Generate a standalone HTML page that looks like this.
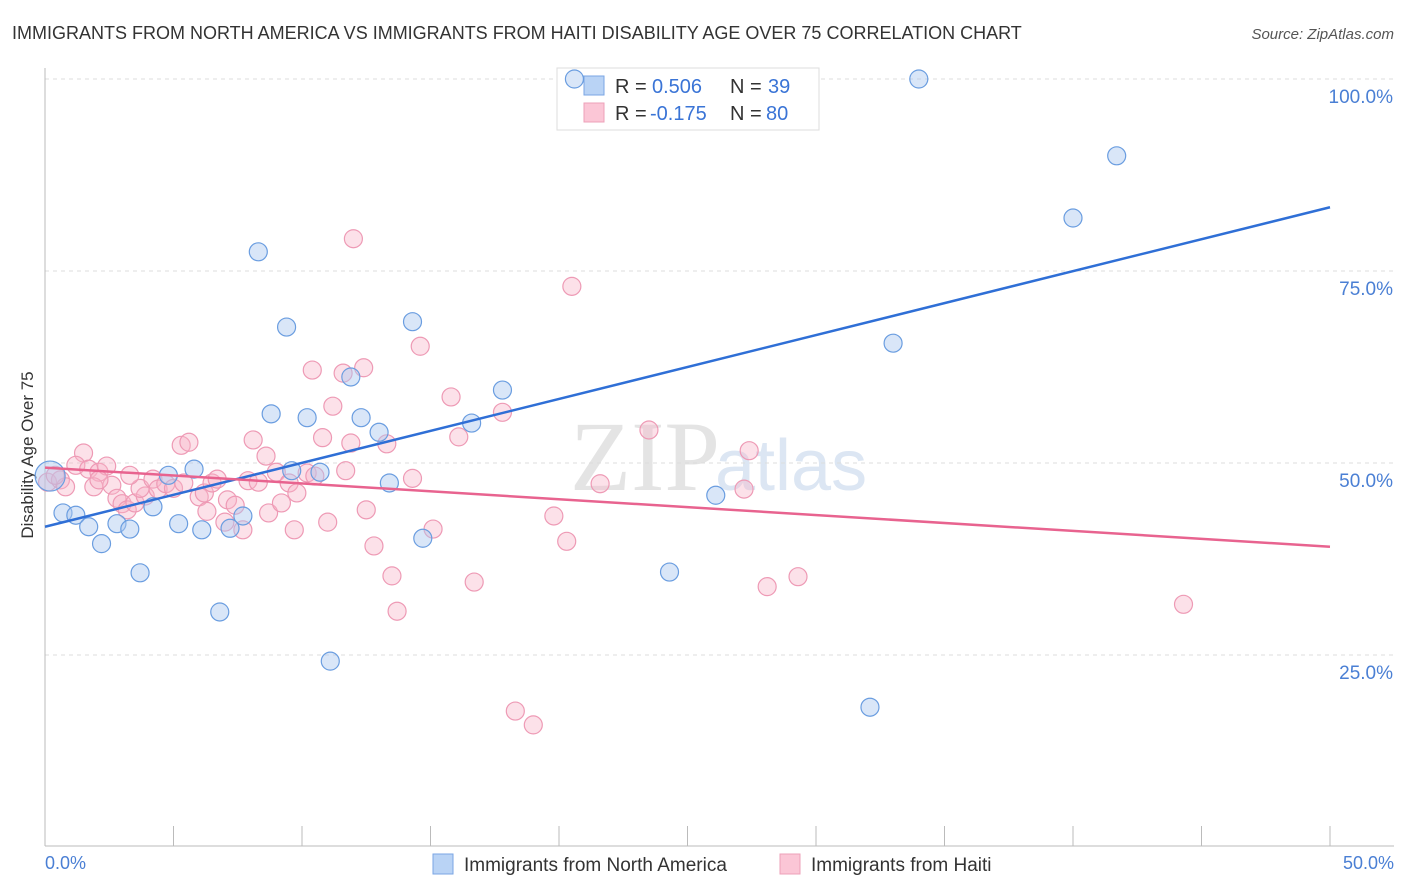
<!DOCTYPE html>
<html><head><meta charset="utf-8"><style>
body{margin:0;background:#fff;font-family:"Liberation Sans",sans-serif;}
#c{position:absolute;left:0;top:0;width:1406px;height:892px;}
</style></head><body>
<svg id="c" width="1406" height="892" xmlns="http://www.w3.org/2000/svg">
<text x="12" y="39" font-size="18" fill="#333">IMMIGRANTS FROM NORTH AMERICA VS IMMIGRANTS FROM HAITI DISABILITY AGE OVER 75 CORRELATION CHART</text>
<text x="1394" y="39" font-size="15" fill="#555" font-style="italic" text-anchor="end">Source: ZipAtlas.com</text>
<text x="720" y="490" font-size="100" fill="#e4e4e4" text-anchor="end" font-family="Liberation Serif">ZIP</text>
<text x="715" y="490" font-size="72" fill="#dce6f3">atlas</text>
<g id="grid"></g>
<line x1="45" y1="68" x2="45" y2="846" stroke="#bbb"/>
<line x1="45" y1="846" x2="1394" y2="846" stroke="#bbb"/>
<text x="33" y="455" font-size="17" fill="#333" text-anchor="middle" transform="rotate(-90 33 455)">Disability Age Over 75</text>
<text x="45" y="869" font-size="18" fill="#4a7fd4">0.0%</text>
<text x="1394" y="869" font-size="18" fill="#4a7fd4" text-anchor="end">50.0%</text>
<g>
<rect x="557" y="68" width="262" height="62" fill="#fff" stroke="#ddd"/>
<rect x="584" y="76" width="20" height="19" fill="#b9d3f5" stroke="#7aa6e4"/>
<rect x="584" y="103" width="20" height="19" fill="#fbc6d6" stroke="#eea0b8"/>
<text x="615" y="93" font-size="20" fill="#333">R =</text><text x="652" y="93" font-size="20" fill="#3a74d6">0.506</text>
<text x="730" y="93" font-size="20" fill="#333">N =</text><text x="768" y="93" font-size="20" fill="#3a74d6">39</text>
<text x="615" y="120" font-size="20" fill="#333">R =</text><text x="650" y="120" font-size="20" fill="#3a74d6">-0.175</text>
<text x="730" y="120" font-size="20" fill="#333">N =</text><text x="766" y="120" font-size="20" fill="#3a74d6">80</text>
</g>
<g id="pts"></g>
<g>
<rect x="433" y="854" width="20" height="20" fill="#b9d3f5" stroke="#7aa6e4"/>
<text x="464" y="871" font-size="19" fill="#333">Immigrants from North America</text>
<rect x="780" y="854" width="20" height="20" fill="#fbc6d6" stroke="#eea0b8"/>
<text x="811" y="871" font-size="19" fill="#333">Immigrants from Haiti</text>
</g>
</svg>
<script>
const yTicks=[25,50,75,100];
const yTickLabels=["25.0%","50.0%","75.0%","100.0%"];
const xTicks=[0,5,10,15,20,25,30,35,40,45,50];
const blueX=[20.6,34.0,41.7,40.0,8.3,9.4,14.3,33.0,11.9,17.8,8.8,10.2,12.3,16.6,13.0,5.8,4.8,9.6,10.7,13.4,4.2,0.7,1.2,7.7,5.2,7.2,1.7,2.8,3.3,6.1,14.7,2.2,3.7,24.3,26.1,6.8,11.1,32.1,0.2];
const blueY=[100,100,90.0,81.9,77.5,67.7,68.4,65.6,61.2,59.5,56.4,55.9,55.9,55.2,54.0,49.2,48.4,49.0,48.8,47.4,44.3,43.5,43.2,43.1,42.1,41.5,41.7,42.1,41.4,41.3,40.2,39.5,35.7,35.8,45.8,30.6,24.2,18.2,48.3];
const pinkX=[0.1,0.6,0.8,1.5,1.2,1.7,2.1,2.4,1.9,2.6,2.8,3.0,3.2,3.5,3.9,3.7,4.2,4.4,4.7,5.0,5.3,5.6,5.4,6.0,6.2,6.3,6.5,6.7,7.1,7.4,7.7,7.0,7.9,8.1,8.3,8.6,8.7,9.0,9.2,9.5,9.7,9.8,10.2,10.4,10.5,10.8,11.0,11.2,11.6,11.7,11.9,12.0,12.4,12.5,12.8,13.3,13.5,13.7,14.3,14.6,15.1,15.8,16.1,16.7,17.8,18.3,19.0,19.8,20.3,20.5,21.6,23.5,27.2,27.4,28.1,29.3,44.3,2.1,3.3,0.4];
const pinkY=[47.5,47.8,46.9,51.3,49.7,49.2,48.8,49.6,46.9,47.1,45.4,44.7,43.9,44.8,45.7,46.7,47.9,46.6,47.3,46.7,52.3,52.7,47.4,45.6,46.1,43.7,47.4,47.9,45.2,44.5,41.3,42.3,47.7,53.0,47.5,50.9,43.5,48.8,44.8,47.4,41.3,46.1,48.7,62.1,48.3,53.3,42.3,57.4,61.7,49.0,52.6,79.2,62.4,43.9,39.2,52.5,35.3,30.7,48.0,65.2,41.4,58.6,53.4,34.5,56.6,17.7,15.9,43.1,39.8,73.0,47.3,54.3,46.6,51.6,33.9,35.2,31.6,47.8,48.4,48.4];
const blueLine=[41.7,83.3];
const pinkLine=[49.4,39.1];
const NS="http://www.w3.org/2000/svg";
function sx(v){return 45+v/50*1285;}
function sy(v){return 847-v/100*768;}
const grid=document.getElementById('grid');
yTicks.forEach((t,i)=>{
 const l=document.createElementNS(NS,'line');
 l.setAttribute('x1',45);l.setAttribute('x2',1394);l.setAttribute('y1',sy(t));l.setAttribute('y2',sy(t));
 l.setAttribute('stroke','#ddd');l.setAttribute('stroke-dasharray','4,4');
 
 
 grid.appendChild(l);
 const tx=document.createElementNS(NS,'text');
 tx.setAttribute('x',1393);tx.setAttribute('y',sy(t)+24);tx.setAttribute('text-anchor','end');
 tx.setAttribute('font-size','19');tx.setAttribute('fill','#4a7fd4');tx.textContent=yTickLabels[i];
 
 
 grid.appendChild(tx);
});
xTicks.forEach(t=>{
 if(t===0)return;
 const l=document.createElementNS(NS,'line');
 l.setAttribute('x1',sx(t));l.setAttribute('x2',sx(t));l.setAttribute('y1',826);l.setAttribute('y2',846);
 l.setAttribute('stroke','#bbb');
 
 
 grid.appendChild(l);
});
const pts=document.getElementById('pts');
function dot(x,y,fill,stroke,name,r){
 const c=document.createElementNS(NS,'circle');
 c.setAttribute('cx',sx(x));c.setAttribute('cy',sy(y));c.setAttribute('r',r||9);
 c.setAttribute('fill',fill);c.setAttribute('stroke',stroke);c.setAttribute('stroke-width','1.2');
 
 
 pts.appendChild(c);
}
pinkX.forEach((x,i)=>dot(x,pinkY[i],'rgba(248,180,200,0.4)','#ee9ab5','haiti-point'));
blueX.forEach((x,i)=>dot(x,blueY[i],'rgba(170,200,240,0.45)','#6a9de0','north-america-point',i===blueX.length-1?15:9));
function line(v,col,name){
 const l=document.createElementNS(NS,'line');
 l.setAttribute('x1',sx(0));l.setAttribute('y1',sy(v[0]));l.setAttribute('x2',sx(50));l.setAttribute('y2',sy(v[1]));
 l.setAttribute('stroke',col);l.setAttribute('stroke-width','2.5');
 
 
 pts.appendChild(l);
}
line(blueLine,'#2f6fd6','north-america-trendline');
line(pinkLine,'#e8638f','haiti-trendline');
</script>
</body></html>
